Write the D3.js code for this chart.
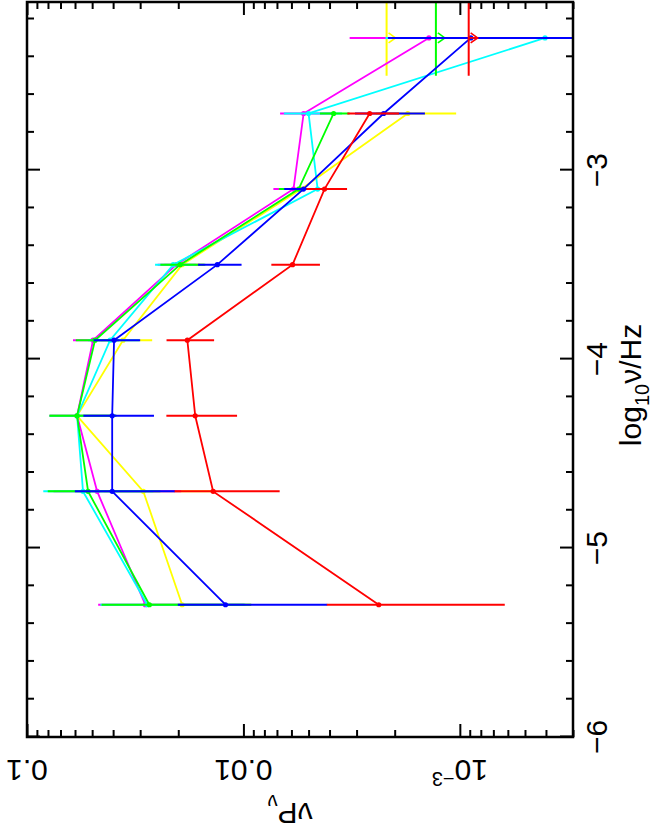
<!doctype html>
<html>
  <head>
    <meta charset="utf-8">
    <script src="https://cdn.jsdelivr.net/npm/d3@7"></script>
    <style>
      body { margin: 0; background: white; }
      text { font-family: "Liberation Sans", Arial, sans-serif; font-size: 30px; fill: black; }
    </style>
  </head>
  <body>
    <svg id="chart"></svg>
    <script>
      // frequency bins (log10 nu / Hz)
      const logNu = [-5.3, -4.7, -4.3, -3.9, -3.5, -3.1, -2.7, -2.3]
      // upper limit bin
      const limitNu = -2.3
      const limitSpan = [-2.5, -2.1]

      // nu P_nu per series, null where only an upper limit exists
      const yellowFlux  = [0.0192, 0.0290, 0.0587, 0.0360, 0.0192, 0.0054, 0.00174, null]
      const yellowErr   = [0.010, 0.015, 0.020, 0.0096, 0.004, 0.0012, 0.0007, null]
      const magentaFlux = [0.0284, 0.0474, 0.0587, 0.0495, 0.0204, 0.00587, 0.00527, 0.00139]
      const magentaErr  = [0.0185, 0.028, 0.020, 0.0118, 0.0045, 0.0014, 0.0015, 0.00184]
      const cyanFlux    = [0.0278, 0.0551, 0.0587, 0.0413, 0.0211, 0.00454, 0.0050, 0.000404]
      const cyanErr     = [0.018, 0.029, 0.020, 0.011, 0.0045, 0.0012, 0.0015, 0.0018]
      const greenFlux   = [0.0272, 0.0522, 0.0587, 0.0485, 0.0196, 0.00556, 0.00383, null]
      const greenErr    = [0.018, 0.028, 0.020, 0.011, 0.0046, 0.0013, 0.0006, null]
      const blueFlux    = [0.0121, 0.0404, 0.0404, 0.0396, 0.0132, 0.00528, 0.00225, 0.00089]
      const blueErr     = [0.008, 0.0197, 0.0145, 0.0096, 0.003, 0.0012, 0.0008, 0.00126]
      const redFlux     = [0.00237, 0.0138, 0.0167, 0.01816, 0.00593, 0.00422, 0.00261, null]
      const redErr      = [0.00175, 0.007, 0.006, 0.0045, 0.0015, 0.0009, 0.0007, null]

      const yellowLimit = 0.00218
      const greenLimit  = 0.00129
      const redLimit    = 0.00091

      // tick labels
      const xTicks = [-6, -5, -4, -3]
      const xTickLabels = ["\u22126", "\u22125", "\u22124", "\u22123"]
      const yTicks = [0.1, 0.01, 0.001]

      const series = [
        { color: "#ffff00", flux: yellowFlux,  err: yellowErr,  limit: yellowLimit },
        { color: "#ff00ff", flux: magentaFlux, err: magentaErr, limit: null },
        { color: "#00ffff", flux: cyanFlux,    err: cyanErr,    limit: null },
        { color: "#00ff00", flux: greenFlux,   err: greenErr,   limit: greenLimit },
        { color: "#0000ff", flux: blueFlux,    err: blueErr,    limit: null },
        { color: "#ff0000", flux: redFlux,     err: redErr,     limit: redLimit }
      ]

      // the plot is drawn upright in an 831 x 653 frame, then turned a quarter turn
      const W = 831, H = 653
      const x0 = 94, x1 = 829, y0 = 27, y1 = 573

      const x = d3.scaleLinear().domain([-6, -2.11]).range([x0, x1])
      const y = d3.scaleLog().domain([3e-4, 0.1]).range([y1, y0])

      const svg = d3.select("#chart")
          .attr("width", H)
          .attr("height", W)

      const g = svg.append("g")
          .attr("transform", "translate(0," + W + ") rotate(-90)")

      g.append("clipPath")
          .attr("id", "plot-clip")
        .append("rect")
          .attr("x", x0).attr("y", y0)
          .attr("width", x1 - x0).attr("height", y1 - y0)

      // minor tick positions
      const xMinor = d3.range(-5.8, -2.1, 0.2).filter(d => Math.abs(d - Math.round(d)) > 0.05)
      const yMinor = []
      for (let e = -4; e <= -2; e++) {
        for (let m = 2; m <= 9; m++) {
          const v = m * Math.pow(10, e)
          if (v > 3e-4 && v < 0.1) yMinor.push(v)
        }
      }

      function tickAxis(axis, values, size, transform) {
        const a = g.append("g")
            .attr("transform", transform)
            .call(axis.tickValues(values).tickSize(-size).tickFormat(""))
        a.select(".domain").remove()
        a.selectAll(".tick line").attr("stroke", "black").attr("stroke-width", 2)
        return a
      }

      tickAxis(d3.axisBottom(x), xTicks, 13, "translate(0," + y1 + ")")
      tickAxis(d3.axisBottom(x), xMinor, 7, "translate(0," + y1 + ")")
      tickAxis(d3.axisTop(x), xTicks, 13, "translate(0," + y0 + ")")
      tickAxis(d3.axisTop(x), xMinor, 7, "translate(0," + y0 + ")")
      tickAxis(d3.axisLeft(y), yTicks, 13, "translate(" + x0 + ",0)")
      tickAxis(d3.axisLeft(y), yMinor, 7, "translate(" + x0 + ",0)")
      tickAxis(d3.axisRight(y), yTicks, 13, "translate(" + x1 + ",0)")
      tickAxis(d3.axisRight(y), yMinor, 7, "translate(" + x1 + ",0)")

      // data
      const plot = g.append("g").attr("clip-path", "url(#plot-clip)")
      const floor = 1e-4

      series.forEach(s => {
        const pts = logNu.map((nu, i) => ({ nu: nu, v: s.flux[i], e: s.err[i] }))
                         .filter(p => p.v !== null)

        plot.append("path")
            .datum(pts)
            .attr("fill", "none")
            .attr("stroke", s.color)
            .attr("stroke-width", 1.8)
            .attr("d", d3.line().x(p => x(p.nu)).y(p => y(p.v)))

        plot.selectAll(null)
          .data(pts)
          .enter().append("line")
            .attr("x1", p => x(p.nu)).attr("x2", p => x(p.nu))
            .attr("y1", p => y(p.v + p.e))
            .attr("y2", p => y(Math.max(p.v - p.e, floor)))
            .attr("stroke", s.color)
            .attr("stroke-width", 2)

        plot.selectAll(null)
          .data(pts)
          .enter().append("circle")
            .attr("cx", p => x(p.nu)).attr("cy", p => y(p.v))
            .attr("r", 2.6)
            .attr("fill", s.color)

        if (s.limit !== null) {
          const ly = y(s.limit), tip = y(s.limit / 1.1), lx = x(limitNu)
          plot.append("line")
              .attr("x1", x(limitSpan[0])).attr("x2", x(limitSpan[1]))
              .attr("y1", ly).attr("y2", ly)
              .attr("stroke", s.color).attr("stroke-width", 2)
          plot.append("line")
              .attr("x1", lx).attr("x2", lx)
              .attr("y1", ly).attr("y2", tip)
              .attr("stroke", s.color).attr("stroke-width", 1.6)
          plot.append("polyline")
              .attr("points", [[lx - 5, tip - 7], [lx, tip], [lx + 5, tip - 7]].join(" "))
              .attr("fill", "none")
              .attr("stroke", s.color).attr("stroke-width", 1.6)
        }
      })

      // frame
      g.append("rect")
          .attr("x", x0).attr("y", y0)
          .attr("width", x1 - x0).attr("height", y1 - y0)
          .attr("fill", "none")
          .attr("stroke", "black")
          .attr("stroke-width", 2.5)

      // x tick labels
      g.selectAll(".xlab")
        .data(xTicks)
        .enter().append("text")
          .attr("class", "xlab")
          .attr("x", d => x(d))
          .attr("y", y1 + 34)
          .attr("text-anchor", "middle")
          .text((d, i) => xTickLabels[i])

      // y tick labels (vertical)
      const ylab = g.selectAll(".ylab")
        .data(yTicks)
        .enter().append("text")
          .attr("class", "ylab")
          .attr("transform", d => "translate(" + 61 + "," + y(d) + ") rotate(-90)")
          .attr("dy", "0.35em")
          .attr("text-anchor", "middle")

      ylab.filter(d => d >= 0.01).text(d => String(d))
      const exp = ylab.filter(d => d < 0.01)
      exp.append("tspan").text("10")
      exp.append("tspan").attr("font-size", "20px").attr("dy", "-12").text("\u22123")

      // axis titles
      const xt = g.append("text")
          .attr("x", 446)
          .attr("y", y1 + 68)
          .attr("text-anchor", "middle")
      xt.append("tspan").text("log")
      xt.append("tspan").attr("font-size", "20px").attr("dy", "8").text("10")
      xt.append("tspan").attr("dy", "-8").text("\u03bd/Hz")

      const yt = g.append("text")
          .attr("transform", "translate(" + 18 + "," + ((y0 + y1) / 2 - 10) + ") rotate(-90)")
          .attr("dy", "0.35em")
          .attr("text-anchor", "middle")
      yt.append("tspan").text("\u03bdP")
      yt.append("tspan").attr("font-size", "20px").attr("dy", "8").text("\u03bd")
    </script>
  </body>
</html>
